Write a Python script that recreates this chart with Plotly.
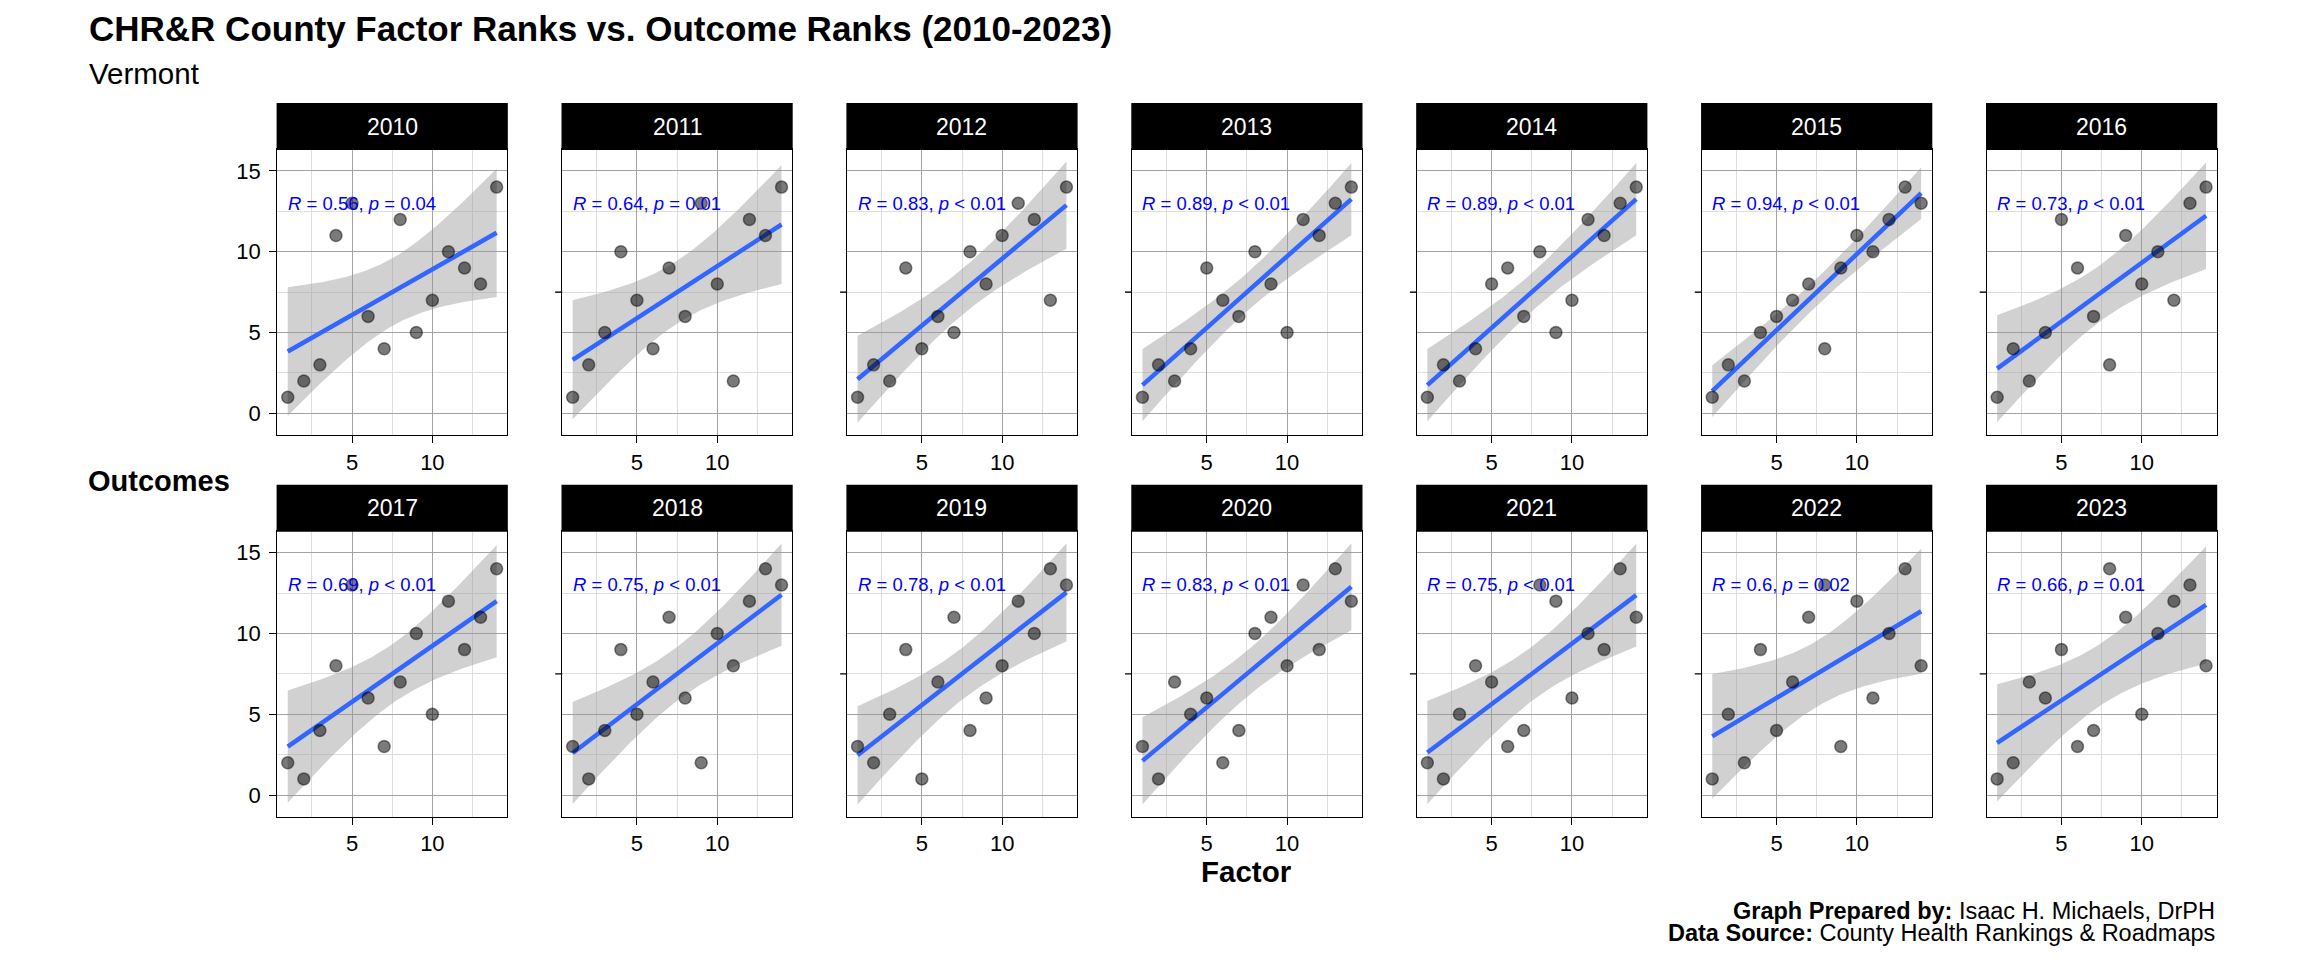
import numpy as np
import plotly.graph_objects as go

# ---------------- data ----------------
YEARS = [2010, 2011, 2012, 2013, 2014, 2015, 2016,
         2017, 2018, 2019, 2020, 2021, 2022, 2023]
FACTOR = list(range(1, 15))  # factor ranks 1..14 (x) for every year

OUT_2010 = [1, 2, 3, 11, 13, 6, 4, 12, 5, 7, 10, 9, 8, 14]
OUT_2011 = [1, 3, 5, 10, 7, 4, 9, 6, 13, 8, 2, 12, 11, 14]
OUT_2012 = [1, 3, 2, 9, 4, 6, 5, 10, 8, 11, 13, 12, 7, 14]
OUT_2013 = [1, 3, 2, 4, 9, 7, 6, 10, 8, 5, 12, 11, 13, 14]
OUT_2014 = [1, 3, 2, 4, 8, 9, 6, 10, 5, 7, 12, 11, 13, 14]
OUT_2015 = [1, 3, 2, 5, 6, 7, 8, 4, 9, 11, 10, 12, 14, 13]
OUT_2016 = [1, 4, 2, 5, 12, 9, 6, 3, 11, 8, 10, 7, 13, 14]
OUT_2017 = [2, 1, 4, 8, 13, 6, 3, 7, 10, 5, 12, 9, 11, 14]
OUT_2018 = [3, 1, 4, 9, 5, 7, 11, 6, 2, 10, 8, 12, 14, 13]
OUT_2019 = [3, 2, 5, 9, 1, 7, 11, 4, 6, 8, 12, 10, 14, 13]
OUT_2020 = [3, 1, 7, 5, 6, 2, 4, 10, 11, 8, 13, 9, 14, 12]
OUT_2021 = [2, 1, 5, 8, 7, 3, 4, 13, 12, 6, 10, 9, 14, 11]
OUT_2022 = [1, 5, 2, 9, 4, 7, 11, 13, 3, 12, 6, 10, 14, 8]
OUT_2023 = [1, 2, 7, 6, 9, 3, 4, 14, 11, 5, 10, 12, 13, 8]

OUTCOMES = [OUT_2010, OUT_2011, OUT_2012, OUT_2013, OUT_2014, OUT_2015, OUT_2016,
            OUT_2017, OUT_2018, OUT_2019, OUT_2020, OUT_2021, OUT_2022, OUT_2023]

R_TEXT = ["0.56", "0.64", "0.83", "0.89", "0.89", "0.94", "0.73",
          "0.69", "0.75", "0.78", "0.83", "0.75", "0.6", "0.66"]
P_TEXT = ["= 0.04", "= 0.01", "< 0.01", "< 0.01", "< 0.01", "< 0.01", "< 0.01",
          "< 0.01", "< 0.01", "< 0.01", "< 0.01", "< 0.01", "= 0.02", "= 0.01"]

X_TICKS = [5, 10]
Y_TICKS = [0, 5, 10, 15]
MINOR_TICKS = [2.5, 7.5, 12.5]

TITLE = "CHR&R County Factor Ranks vs. Outcome Ranks (2010-2023)"
SUBTITLE = "Vermont"
X_TITLE = "Factor"
Y_TITLE = "Outcomes"
CAPTION_1 = "<b>Graph Prepared by:</b> Isaac H. Michaels, DrPH"
CAPTION_2 = "<b>Data Source:</b> County Health Rankings & Roadmaps"

# ---------------- layout constants ----------------
W, H = 2304, 960
OFF = 8  # browser body margin offsets the figure by 8px
FONT = "Liberation Sans, Arial, Helvetica, sans-serif"
LEFT0, STEP, PW = 277.3, 284.9, 229.8
ROW_TOP = [149.3, 531.0]
ROW_BOT = [435.0, 816.7]
STRIP_H = 45.5
T_CRIT = 2.178813  # t(0.975, df=12)


def px_x(p):
    return (p - OFF) / W


def px_y(p):
    return 1 - (p - OFF) / H


fig = go.Figure()
annotations = []
shapes = []
layout = {}

for k, (yr, yv) in enumerate(zip(YEARS, OUTCOMES)):
    row, col = divmod(k, 7)
    sfx = "" if k == 0 else str(k + 1)
    xa, ya = "x" + sfx, "y" + sfx

    x = np.array(FACTOR, dtype=float)
    y = np.array(yv, dtype=float)
    n = len(x)
    slope, inter = np.polyfit(x, y, 1)
    resid = y - (slope * x + inter)
    s = np.sqrt(np.sum(resid ** 2) / (n - 2))
    xs = np.linspace(x.min(), x.max(), 80)
    fit = slope * xs + inter
    se = s * np.sqrt(1 / n + (xs - x.mean()) ** 2 / np.sum((x - x.mean()) ** 2))
    up, lo = fit + T_CRIT * se, fit - T_CRIT * se

    fig.add_trace(go.Scatter(x=np.concatenate([xs, xs[::-1]]),
                             y=np.concatenate([up, lo[::-1]]),
                             fill="toself", fillcolor="rgba(153,153,153,0.45)",
                             line=dict(width=0), mode="lines", hoverinfo="skip",
                             showlegend=False, xaxis=xa, yaxis=ya))
    fig.add_trace(go.Scatter(x=xs, y=fit, mode="lines",
                             line=dict(color="#3366FF", width=4.5),
                             showlegend=False, xaxis=xa, yaxis=ya))
    fig.add_trace(go.Scatter(x=x, y=y, mode="markers",
                             marker=dict(size=12, color="rgba(0,0,0,0.52)",
                                         line=dict(color="rgba(0,0,0,0.45)", width=1.5)),
                             showlegend=False, xaxis=xa, yaxis=ya))

    x0 = LEFT0 + col * STEP
    x1 = x0 + PW
    top, bot = ROW_TOP[row], ROW_BOT[row]

    layout["xaxis" + sfx] = dict(
        domain=[px_x(x0), px_x(x1)], anchor=ya, range=[0.35, 14.65],
        tickvals=X_TICKS, ticks="outside", ticklen=7, tickwidth=1.2, tickcolor="black",
        tickfont=dict(size=22, color="black", family=FONT),
        showgrid=True, gridcolor="#a3a3a3", gridwidth=0.9, zeroline=False,
        showline=True, linecolor="black", linewidth=1.4, mirror=True,
        minor=dict(tickvals=MINOR_TICKS, showgrid=True, gridcolor="#dedede",
                   gridwidth=0.8, ticks=""),
    )
    layout["yaxis" + sfx] = dict(
        domain=[px_y(bot), px_y(top)], anchor=xa, range=[-1.34, 16.34],
        tickvals=Y_TICKS, ticks="outside" if col == 0 else "", ticklen=7,
        tickwidth=1.2, tickcolor="black", showticklabels=(col == 0),
        tickfont=dict(size=22, color="black", family=FONT), ticklabelstandoff=4,
        showgrid=True, gridcolor="#a3a3a3", gridwidth=0.9, zeroline=False,
        showline=True, linecolor="black", linewidth=1.4, mirror=True,
        minor=dict(tickvals=MINOR_TICKS, showgrid=True, gridcolor="#dedede",
                   gridwidth=0.8, ticks=""),
    )

    # strip
    shapes.append(dict(type="rect", xref="paper", yref="paper",
                       x0=px_x(x0), x1=px_x(x1), y0=px_y(top), y1=px_y(top - STRIP_H),
                       fillcolor="black", line=dict(color="black", width=1.4)))
    annotations.append(dict(text=str(yr), xref="paper", yref="paper",
                            x=px_x((x0 + x1) / 2), y=px_y(top - STRIP_H / 2),
                            xanchor="center", yanchor="middle", showarrow=False,
                            font=dict(size=23, color="white", family=FONT)))
    # stray tick mark at 7.5 on inner panels
    if col > 0:
        shapes.append(dict(type="line", xref="paper", yref=ya,
                           x0=px_x(x0 - 7), x1=px_x(x0), y0=7.5, y1=7.5,
                           line=dict(color="black", width=1.4)))
    # correlation label
    annotations.append(dict(text=f"<i>R</i> = {R_TEXT[k]}, <i>p</i> {P_TEXT[k]}",
                            xref=xa, yref=ya, x=1, y=13, xanchor="left",
                            yanchor="middle", showarrow=False, xshift=-2,
                            font=dict(size=18.5, color="#0000FF", family=FONT)))

annotations += [
    dict(text=f"<b>{TITLE}</b>", xref="paper", yref="paper", x=px_x(87), y=px_y(29),
         xanchor="left", yanchor="middle", showarrow=False,
         font=dict(size=35, color="black", family=FONT)),
    dict(text=SUBTITLE, xref="paper", yref="paper", x=px_x(87), y=px_y(74),
         xanchor="left", yanchor="middle", showarrow=False,
         font=dict(size=29.5, color="black", family=FONT)),
    dict(text=f"<b>{Y_TITLE}</b>", xref="paper", yref="paper", x=px_x(86), y=px_y(481),
         xanchor="left", yanchor="middle", showarrow=False,
         font=dict(size=29, color="black", family=FONT)),
    dict(text=f"<b>{X_TITLE}</b>", xref="paper", yref="paper",
         x=px_x((LEFT0 + LEFT0 + 6 * STEP + PW) / 2), y=px_y(871),
         xanchor="center", yanchor="middle", showarrow=False,
         font=dict(size=29.5, color="black", family=FONT)),
    dict(text=CAPTION_1, xref="paper", yref="paper", x=px_x(2217), y=px_y(911),
         xanchor="right", yanchor="middle", showarrow=False,
         font=dict(size=23.5, color="black", family=FONT)),
    dict(text=CAPTION_2, xref="paper", yref="paper", x=px_x(2217), y=px_y(933),
         xanchor="right", yanchor="middle", showarrow=False,
         font=dict(size=23.5, color="black", family=FONT)),
]

fig.update_layout(width=W, height=H, margin=dict(l=0, r=0, t=0, b=0),
                  paper_bgcolor="white", plot_bgcolor="white",
                  font=dict(family=FONT), showlegend=False,
                  annotations=annotations, shapes=shapes, **layout)

fig.write_html("out.html")
